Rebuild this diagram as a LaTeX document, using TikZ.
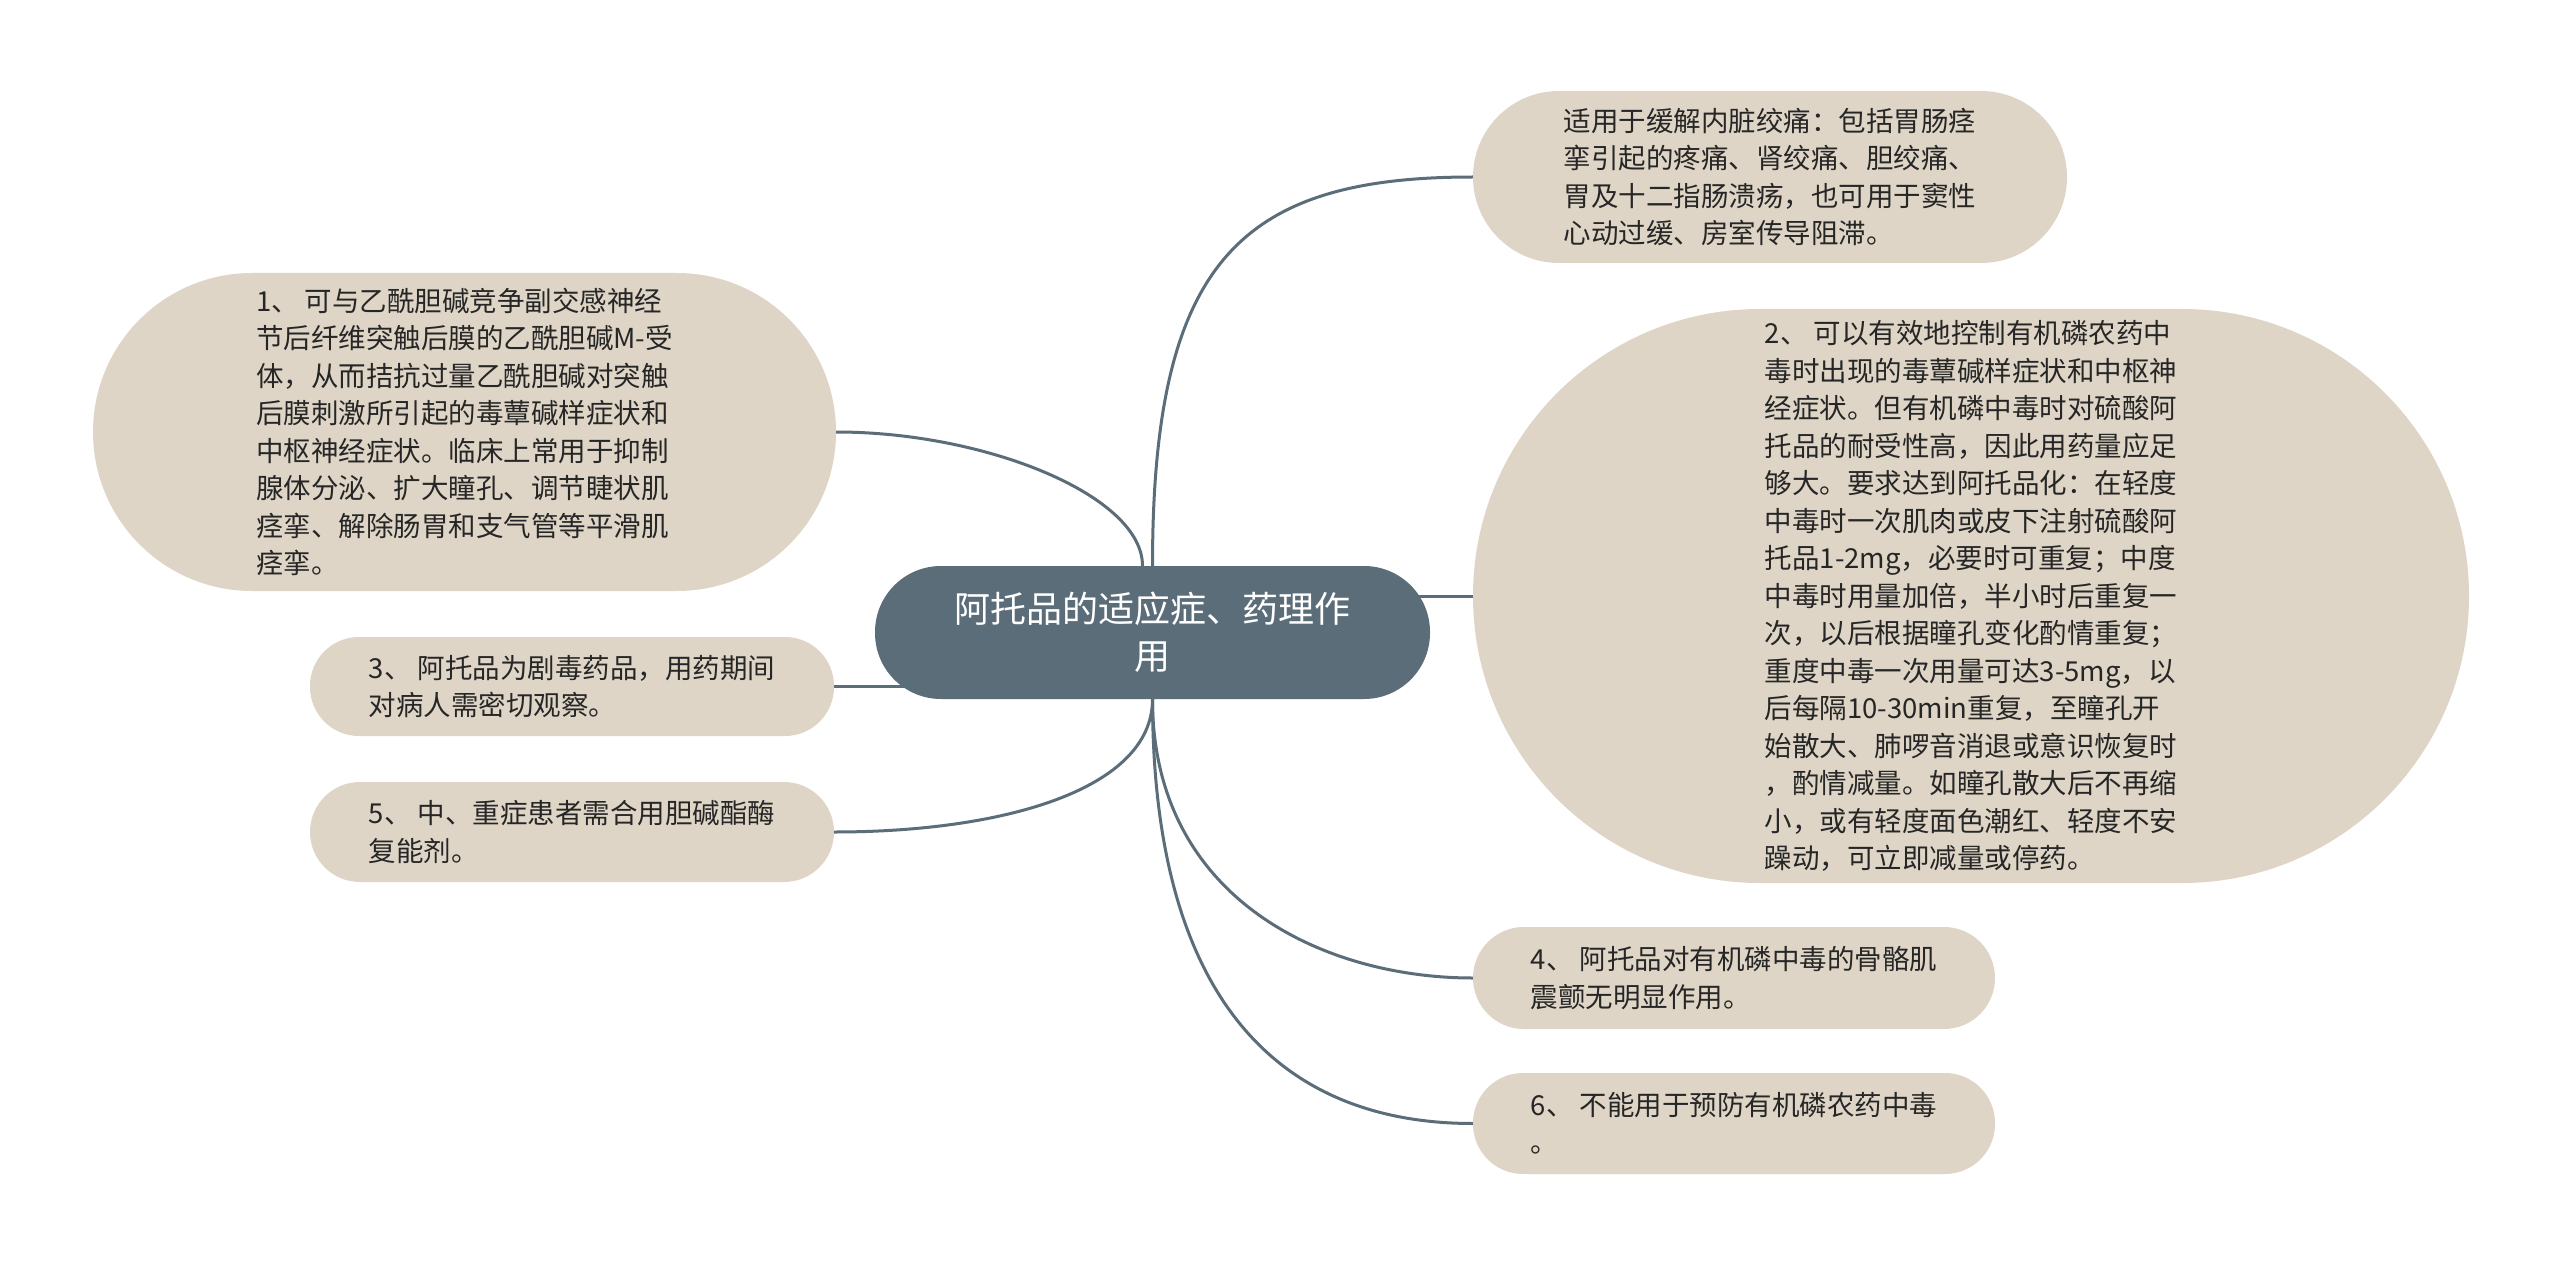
\documentclass[tikz,border=0pt]{standalone}
\usepackage{fontspec}
\newfontfamily\cjk{Noto Sans CJK SC}
\usetikzlibrary{backgrounds,calc}
\definecolor{boxfill}{HTML}{DED5C6}
\definecolor{hubfill}{HTML}{5B6D79}
\definecolor{linkcol}{HTML}{5B6D79}
\definecolor{txt}{HTML}{262626}
\begin{document}
\begin{tikzpicture}[x=1pt,y=-1pt,
  leaf/.style={draw=none, fill=boxfill, rounded corners=#1, inner sep=0pt, align=left, text=txt,
    font=\cjk\fontsize{27.5pt}{37.5pt}\selectfont},
  hub/.style={draw=none, fill=hubfill, rounded corners=66pt, inner sep=0pt, align=center, text=white,
    font=\cjk\fontsize{36pt}{47pt}\selectfont},
  link/.style={draw=linkcol, line width=3pt}]
\useasboundingbox (0,0) rectangle (2560,1265);

\node[hub, minimum width=555pt, minimum height=133pt] (c) at (1152.5,632.5) {阿托品的适应症、药理作\\用};

\node[leaf=86pt, minimum width=594pt, minimum height=172pt] (a) at (1770,177) {适用于缓解内脏绞痛：包括胃肠痉\\挛引起的疼痛、肾绞痛、胆绞痛、\\胃及十二指肠溃疡，也可用于窦性\\心动过缓、房室传导阻滞。};

\node[leaf=287pt, minimum width=996pt, minimum height=574pt] (b2) at (1971,596) {2、 可以有效地控制有机磷农药中\\毒时出现的毒蕈碱样症状和中枢神\\经症状。但有机磷中毒时对硫酸阿\\托品的耐受性高，因此用药量应足\\够大。要求达到阿托品化：在轻度\\中毒时一次肌肉或皮下注射硫酸阿\\托品1-2mg，必要时可重复；中度\\中毒时用量加倍，半小时后重复一\\次，以后根据瞳孔变化酌情重复；\\重度中毒一次用量可达3-5mg，以\\后每隔10-30min重复，至瞳孔开\\始散大、肺啰音消退或意识恢复时\\，酌情减量。如瞳孔散大后不再缩\\小，或有轻度面色潮红、轻度不安\\躁动，可立即减量或停药。};

\node[leaf=51pt, minimum width=522pt, minimum height=102pt] (b4) at (1734,978) {4、 阿托品对有机磷中毒的骨骼肌\\震颤无明显作用。};

\node[leaf=50pt, minimum width=522pt, minimum height=101pt] (b6) at (1734,1123.5) {6、 不能用于预防有机磷农药中毒\\。};

\node[leaf=159pt, minimum width=743pt, minimum height=318pt] (b1) at (464.5,432) {1、 可与乙酰胆碱竞争副交感神经\\节后纤维突触后膜的乙酰胆碱M-受\\体，从而拮抗过量乙酰胆碱对突触\\后膜刺激所引起的毒蕈碱样症状和\\中枢神经症状。临床上常用于抑制\\腺体分泌、扩大瞳孔、调节睫状肌\\痉挛、解除肠胃和支气管等平滑肌\\痉挛。};

\node[leaf=49pt, minimum width=524pt, minimum height=99pt] (b3) at (572,686.5) {3、 阿托品为剧毒药品，用药期间\\对病人需密切观察。};

\node[leaf=50pt, minimum width=524pt, minimum height=100pt] (b5) at (572,832) {5、 中、重症患者需合用胆碱酯酶\\复能剂。};

\coordinate (ctl) at ([xshift=-10pt]c.north);
\begin{scope}[on background layer]
\fill[white] (0,0) rectangle (2560,1265);
\draw[link] (c.north) .. controls ($(c.north)+(0,-305)$) and ($(a.west)+(-232,0)$) .. (a.west);
\draw[link] (b2.west) -- (b2.west -| c.center);
\draw[link] (c.south) .. controls ($(c.south)+(0,199)$) and ($(b4.west)+(-150,0)$) .. (b4.west);
\draw[link] (c.south) .. controls ($(c.south)+(0,313)$) and ($(b6.west)+(-183,0)$) .. (b6.west);
\draw[link] (ctl) .. controls ($(ctl)+(0,-70)$) and ($(b1.east)+(150,0)$) .. (b1.east);
\draw[link] (b3.east) -- (b3.east -| c.center);
\draw[link] (c.south) .. controls ($(c.south)+(0,90)$) and ($(b5.east)+(170,0)$) .. (b5.east);
\end{scope}
\end{tikzpicture}
\end{document}
